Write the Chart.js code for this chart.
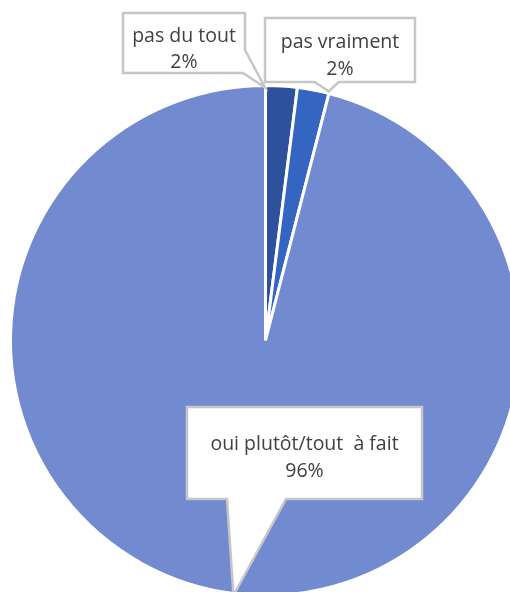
<!DOCTYPE html>
<html>
<head>
<meta charset="utf-8">
<script src="https://cdn.jsdelivr.net/npm/chart.js@4.4.1/dist/chart.umd.min.js"></script>
<style>
  html, body { margin: 0; padding: 0; background: #ffffff; overflow: hidden; width: 510px; height: 592px; }
  #wrap { position: absolute; left: 0; top: 0; width: 510px; height: 592px; overflow: hidden; }
  canvas { position: absolute; left: 0; top: 0; }
</style>
</head>
<body>
<div id="wrap"><canvas id="c" width="530" height="620"></canvas></div>
<script>
const categories = ["pas du tout", "pas vraiment", "oui plutôt/tout  à fait"];
const values = [2, 2, 96];
const percentLabels = ["2%", "2%", "96%"];
const sliceColors = ["#2d519a", "#3465c0", "#728ad0"];

// callout boxes (label boxes only, not data marks)
const callouts = [
  { box: [123, 13, 245, 73], tail: "right", lines: [42, 68] },
  { box: [265, 18, 415, 82], tail: "bottom", lines: [48, 75] },
  { box: [187, 407, 422, 499], tail: "bottomLong", lines: [450, 477] }
];

const calloutPlugin = {
  id: "callouts",
  afterDraw(chart) {
    const ctx = chart.ctx;
    const meta = chart.getDatasetMeta(0);
    ctx.save();
    callouts.forEach((c, i) => {
      const arc = meta.data[i];
      const [x1, y1, x2, y2] = c.box;
      const cx = arc.x, cy = arc.y, r = arc.outerRadius;
      ctx.beginPath();
      if (c.tail === "right") {
        const a = arc.startAngle - 0.002;
        const tx = cx + Math.cos(a) * (r - 2), ty = cy + Math.sin(a) * (r - 2);
        ctx.moveTo(x1, y1); ctx.lineTo(x2, y1); ctx.lineTo(x2, 50);
        ctx.lineTo(tx, ty); ctx.lineTo(x2 - 2, y2); ctx.lineTo(x1, y2);
      } else if (c.tail === "bottom") {
        const a = (arc.startAngle + arc.endAngle) / 2 + 0.06;
        const tx = cx + Math.cos(a) * (r + 2), ty = cy + Math.sin(a) * (r + 2);
        ctx.moveTo(x1, y1); ctx.lineTo(x2, y1); ctx.lineTo(x2, y2);
        ctx.lineTo(tx + 10, y2); ctx.lineTo(tx, ty); ctx.lineTo(tx - 14, y2);
        ctx.lineTo(x1, y2);
      } else {
        const a = Math.PI / 2 + 0.125;
        const tx = cx + Math.cos(a) * (r + 2), ty = cy + Math.sin(a) * (r + 2);
        ctx.moveTo(x1, y1); ctx.lineTo(x2, y1); ctx.lineTo(x2, y2);
        ctx.lineTo(286, y2); ctx.lineTo(tx, ty); ctx.lineTo(227, y2);
        ctx.lineTo(x1, y2);
      }
      ctx.closePath();
      ctx.fillStyle = "#ffffff";
      ctx.fill();
      ctx.lineWidth = 2.5;
      ctx.strokeStyle = "#c6c6c6";
      ctx.lineJoin = "miter";
      ctx.stroke();

      ctx.fillStyle = "#404040";
      ctx.textAlign = "center";
      ctx.textBaseline = "alphabetic";
      ctx.font = "19.5px 'Open Sans', 'Liberation Sans', sans-serif";
      const mx = (x1 + x2) / 2;
      ctx.fillText(categories[i], mx, c.lines[0]);
      ctx.fillText(percentLabels[i], mx, c.lines[1]);
    });
    ctx.restore();
  }
};

new Chart(document.getElementById("c"), {
  type: "pie",
  data: {
    labels: categories,
    datasets: [{
      data: values,
      backgroundColor: sliceColors,
      borderColor: "#ffffff",
      borderWidth: 3,
      hoverOffset: 0
    }]
  },
  options: {
    responsive: false,
    animation: false,
    devicePixelRatio: 1,
    layout: { padding: { left: 9, top: 84, right: 8, bottom: 23 } },
    plugins: {
      legend: { display: false },
      tooltip: { enabled: false },
      title: { display: false }
    }
  },
  plugins: [calloutPlugin]
});
</script>
</body>
</html>
